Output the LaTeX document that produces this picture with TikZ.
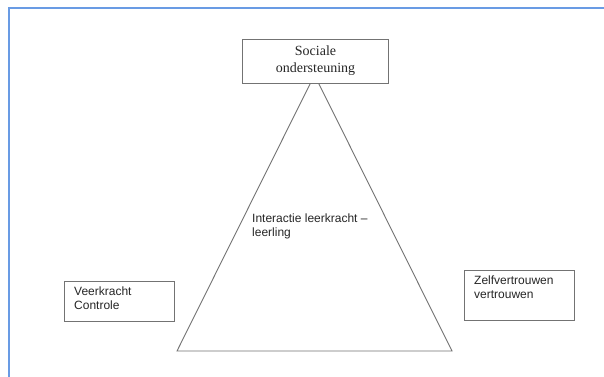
\documentclass[tikz,border=0pt]{standalone}
\usepackage{fontspec}
\setmainfont{Liberation Serif}
\setsansfont{Liberation Sans}
\definecolor{frameblue}{RGB}{105,155,228}
\definecolor{linegray}{RGB}{115,115,115}
\tikzset{
  boxline/.style={draw=linegray, line width=0.9pt, fill=white},
  boxtext/.style={inner sep=0pt, align=left, text=black!85,
    font=\sffamily\fontsize{12}{14}\selectfont},
}

\begin{document}
\begin{tikzpicture}[x=1pt,y=-1pt]
\useasboundingbox (0,0) rectangle (604,376);
\fill[white] (0,0) rectangle (604,376);
\draw[frameblue, line width=1.6pt] (9,390) |- (620,8);
\coordinate (apex) at (314.5,75);
\coordinate (basel) at (177,351);
\coordinate (baser) at (452,351);
\draw[linegray, line width=0.9pt] (apex) -- (basel) -- (baser) -- cycle;
\node[boxline, minimum width=146pt, minimum height=44pt, inner sep=0pt, align=center,
  text=black!85, font=\fontsize{14}{17}\selectfont] (sociaal) at (315.5,61) {Sociale\\ondersteuning};
\node[boxtext, anchor=north west] (inter) at (252,214) {Interactie leerkracht –\\leerling};
\node[boxline, minimum width=110pt, minimum height=40pt, anchor=north west] (veer) at (64,281) {};
\node[boxtext, anchor=north west] (veertxt) at ([xshift=10pt,yshift=-5.5pt]veer.north west) {Veerkracht\\Controle};
\node[boxline, minimum width=110pt, minimum height=50pt, anchor=north west] (zelf) at (464,270) {};
\node[boxtext, anchor=north west] (zelftxt) at ([xshift=10pt,yshift=-6pt]zelf.north west) {Zelfvertrouwen\\vertrouwen};
\end{tikzpicture}
\end{document}
